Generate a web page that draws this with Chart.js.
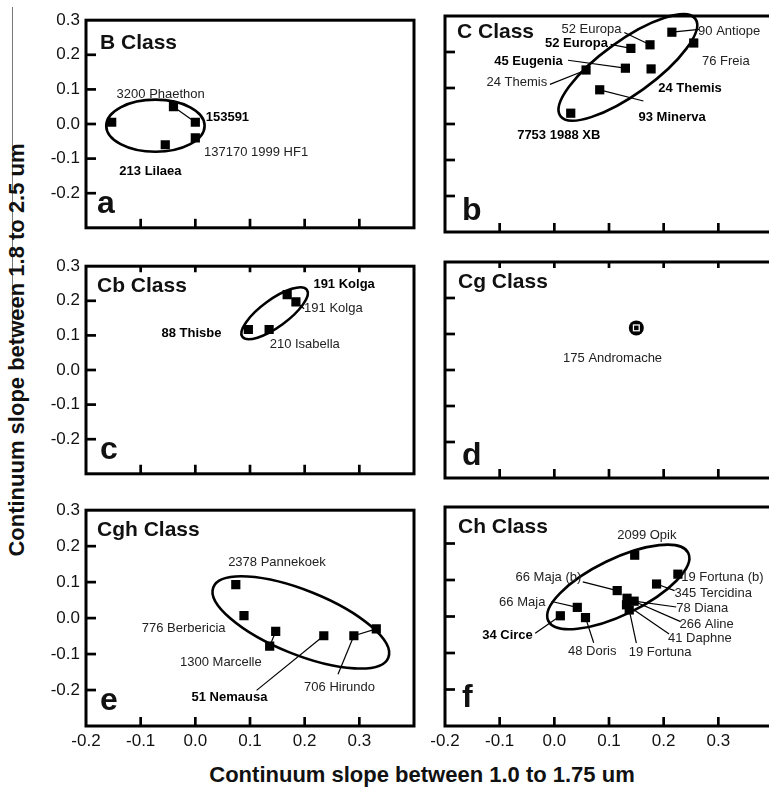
<!DOCTYPE html>
<html>
<head>
<meta charset="utf-8">
<script src="https://cdn.jsdelivr.net/npm/chart.js@4.4.1/dist/chart.umd.min.js"></script>
<style>
    body { margin: 0; width: 769px; height: 789px; overflow: hidden; background: #fff; position: relative; font-family: Arial, "Liberation Sans", sans-serif; }
    canvas { position: absolute; }
    #yTitle { position: absolute; left: 17px; top: 350px; transform: translate(-50%, -50%) rotate(-90deg); font: bold 22px Arial, "Liberation Sans", sans-serif; white-space: nowrap; color: #111; }
    #xTitle { position: absolute; left: 422px; top: 775px; transform: translate(-50%, -50%); font: bold 22px Arial, "Liberation Sans", sans-serif; white-space: nowrap; color: #111; }
    #scanLine { position: absolute; left: 12px; top: 7px; width: 1px; height: 330px; background: #777; }
</style>
</head>
<body>
<div id="scanLine"></div>
<div id="yTitle">Continuum slope between 1.8 to 2.5 um</div>
<div id="xTitle">Continuum slope between 1.0 to 1.75 um</div>
<canvas id="pa"></canvas>
<canvas id="pb"></canvas>
<canvas id="pc"></canvas>
<canvas id="pd"></canvas>
<canvas id="pe"></canvas>
<canvas id="pf"></canvas>
<script>
// tick labels shared by all panels
const xTickVals = [-0.2, -0.1, 0.0, 0.1, 0.2, 0.3];
const xTickLabels = ['-0.2', '-0.1', '0.0', '0.1', '0.2', '0.3'];
const yTickVals = [-0.2, -0.1, 0.0, 0.1, 0.2, 0.3];
const yTickLabels = ['-0.2', '-0.1', '0.0', '0.1', '0.2', '0.3'];

// a - B class
const bX = [-0.153, -0.04, 0.0, 0.0, -0.055];
const bY = [0.005, 0.05, 0.005, -0.04, -0.06];
// b - C class
const cX = [0.03, 0.058, 0.083, 0.13, 0.14, 0.175, 0.177, 0.215, 0.255];
const cY = [0.03, 0.15, 0.095, 0.155, 0.21, 0.22, 0.153, 0.255, 0.225];
// c - Cb class
const cbX = [0.097, 0.135, 0.168, 0.184];
const cbY = [0.117, 0.117, 0.218, 0.197];
// d - Cg class
const cgX = [0.15];
const cgY = [0.117];
// e - Cgh class
const cghX = [0.074, 0.089, 0.147, 0.136, 0.235, 0.29, 0.331];
const cghY = [0.093, 0.007, -0.037, -0.078, -0.049, -0.049, -0.03];
// f - Ch class
const chX = [0.147, 0.226, 0.187, 0.115, 0.133, 0.146, 0.132, 0.137, 0.042, 0.057, 0.011];
const chY = [0.168, 0.116, 0.089, 0.071, 0.05, 0.042, 0.032, 0.018, 0.025, -0.003, 0.002];

// grid of panels (pixels)
const cols = [
    { left: 26, width: 398, yW: 60, padR: 10, yLabels: true },
    { left: 425, width: 360, yW: 20, padR: 12, yLabels: false }
];
const rows = [
    { top: 4, height: 240, padT: 12, padB: 12, xH: 0, xLabels: false, topTicks: false },
    { top: 250, height: 240, padT: 12, padB: 12, xH: 0, xLabels: false, topTicks: true },
    { top: 494, height: 295, padT: 13, padB: 29, xH: 34, xLabels: true, topTicks: false }
];

const panels = [
    {
        id: 'pa', col: 0, row: 0, title: 'B Class', titlePos: [14, 23], letter: 'a', letterPos: [11, 15],
        xs: bX, ys: bY,
        ellipse: { x1: -0.163, y1: -0.005, x2: 0.017, y2: -0.005, ratio: 0.53 },
        links: [[1, 2]],
        notes: [
            { t: '3200 Phaethon', x: -0.144, y: 0.085 },
            { t: '153591', x: 0.019, y: 0.019, b: true },
            { t: '137170 1999 HF1', x: 0.016, y: -0.083 },
            { t: '213 Lilaea', x: -0.139, y: -0.137, b: true }
        ]
    },
    {
        id: 'pb', col: 1, row: 0, title: 'C Class', titlePos: [12, 16], letter: 'b', letterPos: [17, 12],
        xs: cX, ys: cY,
        ellipse: { x1: 0.011, y1: 0.022, x2: 0.258, y2: 0.292, ratio: 0.32 },
        links: [],
        notes: [
            { t: '52 Europa', x: 0.013, y: 0.263, from: [0.128, 0.254], to: 5 },
            { t: '52 Europa', x: -0.017, y: 0.223, b: true, from: [0.103, 0.221], to: 4 },
            { t: '45 Eugenia', x: -0.11, y: 0.175, b: true, from: [0.025, 0.177], to: 3 },
            { t: '24 Themis', x: -0.124, y: 0.115, from: [-0.008, 0.11], to: 1 },
            { t: '24 Themis', x: 0.19, y: 0.099, b: true },
            { t: '93 Minerva', x: 0.154, y: 0.018, b: true, from: [0.163, 0.064], to: 2 },
            { t: '7753 1988 XB', x: -0.068, y: -0.033, b: true },
            { t: '90 Antiope', x: 0.263, y: 0.258, from: [0.265, 0.263], to: 7 },
            { t: '76 Freia', x: 0.27, y: 0.175 }
        ]
    },
    {
        id: 'pc', col: 0, row: 1, title: 'Cb Class', titlePos: [11, 20], letter: 'c', letterPos: [14, 15],
        xs: cbX, ys: cbY,
        ellipse: { x1: 0.086, y1: 0.096, x2: 0.204, y2: 0.232, ratio: 0.34 },
        links: [],
        notes: [
            { t: '191 Kolga', x: 0.216, y: 0.246, b: true },
            { t: '191 Kolga', x: 0.199, y: 0.177, from: [0.199, 0.177], to: 3 },
            { t: '88 Thisbe', x: -0.062, y: 0.107, b: true },
            { t: '210 Isabella', x: 0.136, y: 0.073 }
        ]
    },
    {
        id: 'pd', col: 1, row: 1, title: 'Cg Class', titlePos: [13, 20], letter: 'd', letterPos: [17, 13],
        xs: cgX, ys: cgY, ringed: true,
        ellipse: null,
        links: [],
        notes: [
            { t: '175 Andromache', x: 0.016, y: 0.032 }
        ]
    },
    {
        id: 'pe', col: 0, row: 2, title: 'Cgh Class', titlePos: [11, 20], letter: 'e', letterPos: [14, 16],
        xs: cghX, ys: cghY,
        ellipse: { x1: 0.033, y1: 0.086, x2: 0.353, y2: -0.11, ratio: 0.34 },
        links: [[2, 3], [5, 6]],
        notes: [
            { t: '2378 Pannekoek', x: 0.06, y: 0.155 },
            { t: '776 Berbericia', x: -0.098, y: -0.028 },
            { t: '1300 Marcelle', x: -0.028, y: -0.122 },
            { t: '706 Hirundo', x: 0.199, y: -0.193, from: [0.261, -0.156], to: 5 },
            { t: '51 Nemausa', x: -0.007, y: -0.221, b: true, from: [0.112, -0.201], to: 4 }
        ]
    },
    {
        id: 'pf', col: 1, row: 2, title: 'Ch Class', titlePos: [13, 20], letter: 'f', letterPos: [17, 19],
        xs: chX, ys: chY,
        ellipse: { x1: -0.011, y1: -0.012, x2: 0.245, y2: 0.174, ratio: 0.36 },
        links: [],
        notes: [
            { t: '2099 Opik', x: 0.115, y: 0.223 },
            { t: '66 Maja (b)', x: -0.071, y: 0.107, from: [0.052, 0.095], to: 3 },
            { t: '66 Maja', x: -0.101, y: 0.039, from: [-0.005, 0.041], to: 8 },
            { t: '34 Circe', x: -0.132, y: -0.051, b: true, from: [-0.035, -0.046], to: 10 },
            { t: '48 Doris', x: 0.025, y: -0.096, from: [0.072, -0.072], to: 9 },
            { t: '19 Fortuna', x: 0.136, y: -0.099, from: [0.15, -0.073], to: 7 },
            { t: '41 Daphne', x: 0.208, y: -0.06, from: [0.21, -0.048], to: 6 },
            { t: '266 Aline', x: 0.229, y: -0.023, from: [0.231, -0.014], to: 4 },
            { t: '78 Diana', x: 0.223, y: 0.022, from: [0.223, 0.026], to: 5 },
            { t: '345 Tercidina', x: 0.22, y: 0.064, from: [0.22, 0.071], to: 2 },
            { t: '19 Fortuna (b)', x: 0.232, y: 0.107, from: [0.234, 0.111], to: 1 }
        ]
    }
];

function tickText(v, vals, labels) {
    const i = vals.findIndex(t => Math.abs(t - v) < 1e-6);
    return i < 0 ? '' : labels[i];
}

// ellipses, leader lines and connecting lines go under the markers
const underPlugin = {
    id: 'under',
    beforeDatasetsDraw(chart) {
        const p = chart.options.plugins.under.panel;
        const ctx = chart.ctx, sx = chart.scales.x, sy = chart.scales.y;
        ctx.save();
        ctx.strokeStyle = '#000';
        if (p.ellipse) {
            const e = p.ellipse;
            const ax = sx.getPixelForValue(e.x1), ay = sy.getPixelForValue(e.y1);
            const bx = sx.getPixelForValue(e.x2), by = sy.getPixelForValue(e.y2);
            const a = Math.hypot(bx - ax, by - ay) / 2;
            ctx.lineWidth = 2.6;
            ctx.beginPath();
            ctx.ellipse((ax + bx) / 2, (ay + by) / 2, a, a * e.ratio, Math.atan2(by - ay, bx - ax), 0, Math.PI * 2);
            ctx.stroke();
        }
        ctx.lineWidth = 1.2;
        p.links.forEach(([i, j]) => {
            ctx.beginPath();
            ctx.moveTo(sx.getPixelForValue(p.xs[i]), sy.getPixelForValue(p.ys[i]));
            ctx.lineTo(sx.getPixelForValue(p.xs[j]), sy.getPixelForValue(p.ys[j]));
            ctx.stroke();
        });
        p.notes.forEach(n => {
            if (n.to === undefined) return;
            ctx.beginPath();
            ctx.moveTo(sx.getPixelForValue(n.from[0]), sy.getPixelForValue(n.from[1]));
            ctx.lineTo(sx.getPixelForValue(p.xs[n.to]), sy.getPixelForValue(p.ys[n.to]));
            ctx.stroke();
        });
        ctx.restore();
    }
};

// frame, inward ticks, class name, panel letter, object names
const overPlugin = {
    id: 'over',
    afterDatasetsDraw(chart) {
        const p = chart.options.plugins.over.panel;
        const r = rows[p.row];
        const ctx = chart.ctx, sx = chart.scales.x, sy = chart.scales.y;
        const area = chart.chartArea;
        ctx.save();
        ctx.strokeStyle = '#000';
        ctx.lineWidth = 2.7;
        sx.ticks.forEach(t => {
            if (t.value <= sx.min + 1e-6 || t.value >= sx.max - 1e-6) return;
            const x = sx.getPixelForValue(t.value);
            ctx.beginPath();
            ctx.moveTo(x, area.bottom);
            ctx.lineTo(x, area.bottom - 9);
            if (r.topTicks) {
                ctx.moveTo(x, area.top);
                ctx.lineTo(x, area.top + 6);
            }
            ctx.stroke();
        });
        sy.ticks.forEach(t => {
            if (t.value <= sy.min + 1e-6 || t.value >= sy.max - 1e-6) return;
            const y = sy.getPixelForValue(t.value);
            ctx.beginPath();
            ctx.moveTo(area.left, y);
            ctx.lineTo(area.left + 10, y);
            ctx.stroke();
        });
        ctx.lineWidth = 3;
        ctx.strokeRect(area.left, area.top, area.right - area.left, area.bottom - area.top);

        ctx.fillStyle = '#111';
        ctx.textBaseline = 'middle';
        ctx.textAlign = 'left';
        ctx.font = 'bold 21px Arial, "Liberation Sans", sans-serif';
        ctx.fillText(p.title, area.left + p.titlePos[0], area.top + p.titlePos[1]);
        ctx.textBaseline = 'alphabetic';
        ctx.font = 'bold 32px Arial, "Liberation Sans", sans-serif';
        ctx.fillText(p.letter, area.left + p.letterPos[0], area.bottom - p.letterPos[1]);

        ctx.textBaseline = 'middle';
        p.notes.forEach(n => {
            ctx.font = (n.b ? 'bold ' : '') + '13px Arial, "Liberation Sans", sans-serif';
            ctx.fillStyle = n.b ? '#000' : '#222';
            ctx.fillText(n.t, sx.getPixelForValue(n.x), sy.getPixelForValue(n.y));
        });
        ctx.restore();
    }
};

function buildPanel(p) {
    const c = cols[p.col], r = rows[p.row];
    const canvas = document.getElementById(p.id);
    canvas.width = c.width;
    canvas.height = r.height;
    canvas.style.left = c.left + 'px';
    canvas.style.top = r.top + 'px';

    const points = p.xs.map((x, i) => ({ x: x, y: p.ys[i] }));
    let datasets;
    if (p.ringed) {
        // Chart.js paints dataset 0 last, so the inner square comes first
        datasets = [
            { data: points, pointStyle: 'rect', pointRadius: 3.2, backgroundColor: '#000', borderColor: '#000', borderWidth: 0 },
            { data: points, pointStyle: 'rect', pointRadius: 5, backgroundColor: '#fff', borderColor: '#fff', borderWidth: 0 },
            { data: points, pointStyle: 'circle', pointRadius: 7.5, backgroundColor: '#000', borderColor: '#000', borderWidth: 0 }
        ];
    } else {
        datasets = [{ data: points, pointStyle: 'rect', pointRadius: 6.5, backgroundColor: '#000', borderColor: '#000', borderWidth: 0 }];
    }

    new Chart(canvas, {
        type: 'scatter',
        data: { datasets: datasets },
        options: {
            responsive: false,
            animation: false,
            devicePixelRatio: 1,
            layout: { padding: { left: 0, right: c.padR, top: r.padT, bottom: r.padB } },
            scales: {
                x: {
                    type: 'linear', min: -0.2, max: 0.4,
                    display: r.xLabels,
                    grid: { display: false, drawTicks: false },
                    border: { display: false },
                    afterFit: s => { s.height = r.xH; },
                    ticks: {
                        stepSize: 0.1, autoSkip: false, maxRotation: 0, padding: 5,
                        color: '#111', font: { size: 17, family: 'Arial, "Liberation Sans", sans-serif' },
                        callback: v => tickText(v, xTickVals, xTickLabels)
                    }
                },
                y: {
                    type: 'linear', min: -0.3, max: 0.3,
                    grid: { display: false, drawTicks: false },
                    border: { display: false },
                    afterFit: s => { s.width = c.yW; },
                    ticks: {
                        display: c.yLabels,
                        stepSize: 0.1, autoSkip: false, padding: 6,
                        color: '#111', font: { size: 17, family: 'Arial, "Liberation Sans", sans-serif' },
                        callback: v => tickText(v, yTickVals, yTickLabels)
                    }
                }
            },
            plugins: {
                legend: { display: false },
                tooltip: { enabled: false },
                under: { panel: p },
                over: { panel: p }
            }
        },
        plugins: [underPlugin, overPlugin]
    });
}

panels.forEach(buildPanel);
</script>
</body>
</html>
